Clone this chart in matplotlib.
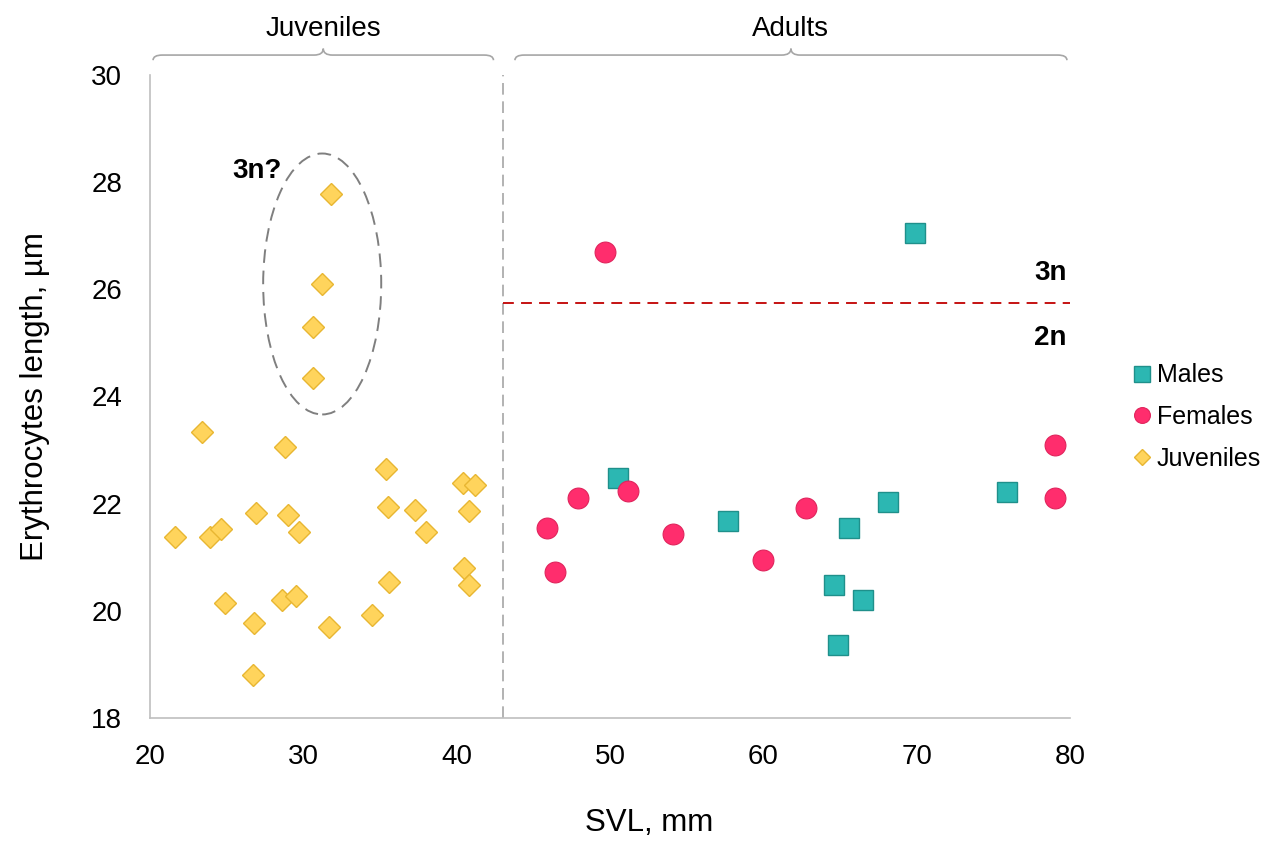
import matplotlib as mpl
import matplotlib.pyplot as plt
from matplotlib.patches import Ellipse, PathPatch
from matplotlib.path import Path
import matplotlib.transforms as mtransforms

# matplotlib parameters
mpl.rcParams['font.family'] = ['Liberation Sans', 'DejaVu Sans']
mpl.rcParams['xtick.labelsize'] = 20
mpl.rcParams['ytick.labelsize'] = 20
mpl.rcParams['axes.labelsize'] = 22.5

# data (SVL mm, erythrocyte length um)
males_svl = [69.9, 50.5, 57.7, 65.6, 68.1, 64.6, 66.5, 64.9, 75.9]
males_len = [27.05, 22.47, 21.68, 21.55, 22.04, 20.49, 20.21, 19.37, 22.21]

females_svl = [49.7, 45.9, 46.4, 47.9, 51.2, 54.1, 60.0, 62.8, 79.0, 79.0]
females_len = [26.69, 21.54, 20.72, 22.11, 22.24, 21.43, 20.94, 21.91, 23.09, 22.11]

juv_svl = [31.8, 31.2, 30.6, 30.6,
           23.4, 28.8, 35.4, 40.4, 41.2, 26.9, 29.0, 35.5, 37.3, 40.8,
           21.6, 23.9, 24.6, 29.7, 38.0, 40.5, 40.8, 35.6, 24.9, 28.6,
           29.5, 26.8, 31.7, 34.5, 26.7]
juv_len = [27.77, 26.10, 25.30, 24.35,
           23.33, 23.05, 22.65, 22.39, 22.34, 21.82, 21.79, 21.94, 21.89, 21.86,
           21.38, 21.37, 21.52, 21.48, 21.47, 20.80, 20.48, 20.53, 20.15, 20.21,
           20.27, 19.78, 19.70, 19.93, 18.80]

split_svl = 43
ploidy_cut = 25.75

groups = ['Juveniles', 'Adults']
group_span = [(20.2, 42.4), (43.8, 79.8)]


def brace(ax, x0, x1, lo=1.023, mid=1.031, top=1.041, r=0.6):
    xc = (x0 + x1) / 2
    verts = [(x0, lo), (x0, mid), (x0 + r, mid), (xc - r, mid),
             (xc, mid), (xc, top), (xc, mid), (xc + r, mid),
             (x1 - r, mid), (x1, mid), (x1, lo)]
    codes = [Path.MOVETO, Path.CURVE3, Path.CURVE3, Path.LINETO,
             Path.CURVE3, Path.CURVE3, Path.CURVE3, Path.CURVE3,
             Path.LINETO, Path.CURVE3, Path.CURVE3]
    trans = mtransforms.blended_transform_factory(ax.transData, ax.transAxes)
    ax.add_patch(PathPatch(Path(verts, codes), transform=trans, fill=False,
                           edgecolor='#a6a6a6', lw=1.2, clip_on=False))
    return xc, trans


def erythro():
    fig = plt.figure(figsize=(12.76, 8.42), dpi=100)
    ax = fig.add_axes([150/1276, 1-718/842, 920/1276, 643/842])

    ax.plot(males_svl, males_len, 's', ms=14.5, mfc='#2cb7b2', mec='#1f908b',
            mew=1, label='Males', zorder=4)
    ax.plot(females_svl, females_len, 'o', ms=15, mfc='#ff2d6d', mec='#e0245c',
            mew=0.8, label='Females', zorder=4)
    ax.plot(juv_svl, juv_len, 'D', ms=11, mfc='#ffd45c', mec='#e8b632',
            mew=1, label='Juveniles', zorder=4)

    ax.plot([split_svl, split_svl], [18, 30], color='#a6a6a6', lw=1.2,
            dashes=(7, 4), zorder=2)
    ax.plot([split_svl, 80], [ploidy_cut, ploidy_cut], color='#c00000',
            lw=1.3, dashes=(6, 4), zorder=2)

    ax.add_patch(Ellipse((31.23, 26.1), 7.7, 4.87, fill=False,
                         edgecolor='#7f7f7f', lw=1.4, ls=(0, (7, 4))))
    ax.text(28.6, 28.2, '3n?', fontsize=20, fontweight='bold',
            ha='right', va='center')
    ax.text(79.8, 26.3, '3n', fontsize=20, fontweight='bold',
            ha='right', va='center')
    ax.text(79.8, 25.1, '2n', fontsize=20, fontweight='bold',
            ha='right', va='center')

    for name, (x0, x1) in zip(groups, group_span):
        xc, trans = brace(ax, x0, x1)
        ax.text(xc, 1.072, name, transform=trans, fontsize=20,
                ha='center', va='center')

    ax.set_xlim(20, 80)
    ax.set_ylim(18, 30)
    ax.set_xticks(range(20, 81, 10))
    ax.set_yticks(range(18, 31, 2))
    ax.tick_params(length=0)
    ax.tick_params(axis='x', pad=19)
    ax.tick_params(axis='y', pad=20)
    for s in ['top', 'right']:
        ax.spines[s].set_visible(False)
    for s in ['left', 'bottom']:
        ax.spines[s].set_color('#bfbfbf')
        ax.spines[s].set_linewidth(1.2)

    ax.set_xlabel('SVL, mm', labelpad=22)
    ax.xaxis.set_label_coords(0.5425, -0.14)
    ax.set_ylabel('Erythrocytes length, µm', labelpad=30)

    fig.legend(loc='center left', bbox_to_anchor=(1110/1276, 1-417/842),
               frameon=False, fontsize=18, markerscale=0.76,
               handlelength=0.75, handletextpad=0.22, labelspacing=0.7)

    fig.savefig('out.png', dpi=100)
    plt.close(fig)


if __name__ == "__main__":
    erythro()
